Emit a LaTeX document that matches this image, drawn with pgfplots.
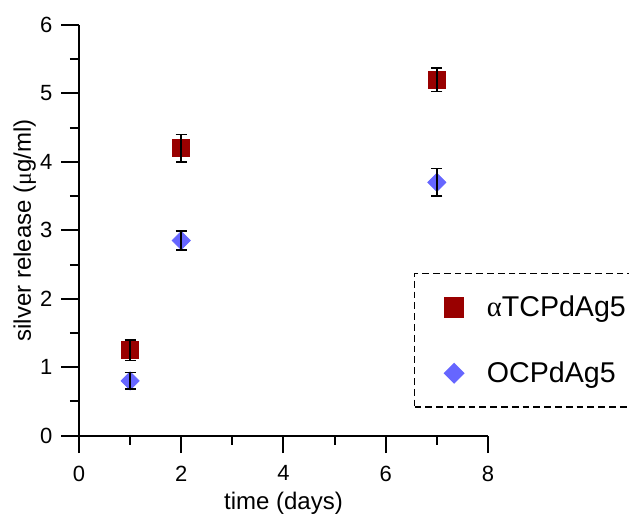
\documentclass[border=0pt]{standalone}
\usepackage{pgfplots}
\pgfplotsset{compat=1.18}
\usepackage{fontspec}
\setmainfont{Liberation Sans}
\newfontfamily\grk{Liberation Serif}
\definecolor{redm}{RGB}{153,0,0}
\definecolor{bluem}{RGB}{102,102,255}
\pgfplotsset{
  legimgA/.style={legend image code/.code={\path (0pt,0pt) (22pt,0pt); \draw[##1, mark size=4.7pt] plot coordinates {(17.4pt,0pt)};}},
  legimgB/.style={legend image code/.code={\path (0pt,0pt) (22pt,0pt); \draw[##1, mark size=3.4pt] plot coordinates {(17.4pt,0pt)};}},
}
\begin{document}
\begin{tikzpicture}
\begin{axis}[
  at={(0pt,0pt)}, anchor=south west,
  set layers=standard,
  scale only axis,
  width=204.5pt, height=205.4pt,
  xmin=0, xmax=8, ymin=0, ymax=6,
  axis x line*=bottom, axis y line*=left,
  axis line style={line width=1pt, -},
  xtick={0,2,4,6,8}, ytick={0,1,2,3,4,5,6},
  minor tick num=1,
  tick align=outside,
  major tick length=8.75pt, minor tick length=4.5pt,
  every tick/.append style={black, line width=1pt},
  tick label style={font=\fontsize{11}{13}\selectfont},
  xticklabel style={yshift=-2.75pt},
  yticklabel style={xshift=-1pt},
  /pgf/number format/assume math mode=true,
  xlabel={time (days)},
  ylabel={silver release ({\grk μ}g/ml)},
  label style={font=\fontsize{12}{14}\selectfont},
  xlabel style={at={(axis description cs:0.5,-0.1801)}, anchor=base},
  ylabel style={at={(axis description cs:-0.1174,0.5)}, anchor=base},
  legend style={
    at={(rel axis cs:0.819,0.396)}, anchor=north west,
    draw=black, dash pattern=on 3.4pt off 2pt, line width=0.65pt,
    font=\fontsize{14.3}{17}\selectfont,
    inner xsep=2pt, inner ysep=11pt,
    row sep=21pt, column sep=8.5pt,
    nodes={inner xsep=3pt, inner ysep=0pt},
    legend cell align=left,
  },
  clip=false,
]
\addplot[only marks, mark=square*, mark size=4.25pt, color=redm, mark options={solid}, legimgA]
  coordinates {(1,1.25) (2,4.2) (7,5.2)};
\addlegendentry{{\grk α}TCPdAg5}
\addplot[only marks, mark=square*, mark size=3.2pt, color=bluem, mark options={solid, rotate=45}, legimgB]
  coordinates {(1,0.8) (2,2.85) (7,3.7)};
\addlegendentry{OCPdAg5}
\addplot[forget plot, draw=none, mark=none, on layer=axis foreground,
  error bars/.cd, y dir=both, y explicit,
  error bar style={draw=black, solid, line width=0.75pt},
  error mark options={draw=black, solid, line width=0.75pt, mark size=2.75pt, rotate=90}]
  coordinates {(1,1.25) +- (0,0.15) (2,4.2) +- (0,0.2) (7,5.2) +- (0,0.17)
               (1,0.8) +- (0,0.12) (2,2.85) +- (0,0.14) (7,3.7) +- (0,0.2)};
\end{axis}
\pgfresetboundingbox
\useasboundingbox (-39.5pt,-39.65pt) rectangle (275pt,217.85pt);
\end{tikzpicture}
\end{document}
